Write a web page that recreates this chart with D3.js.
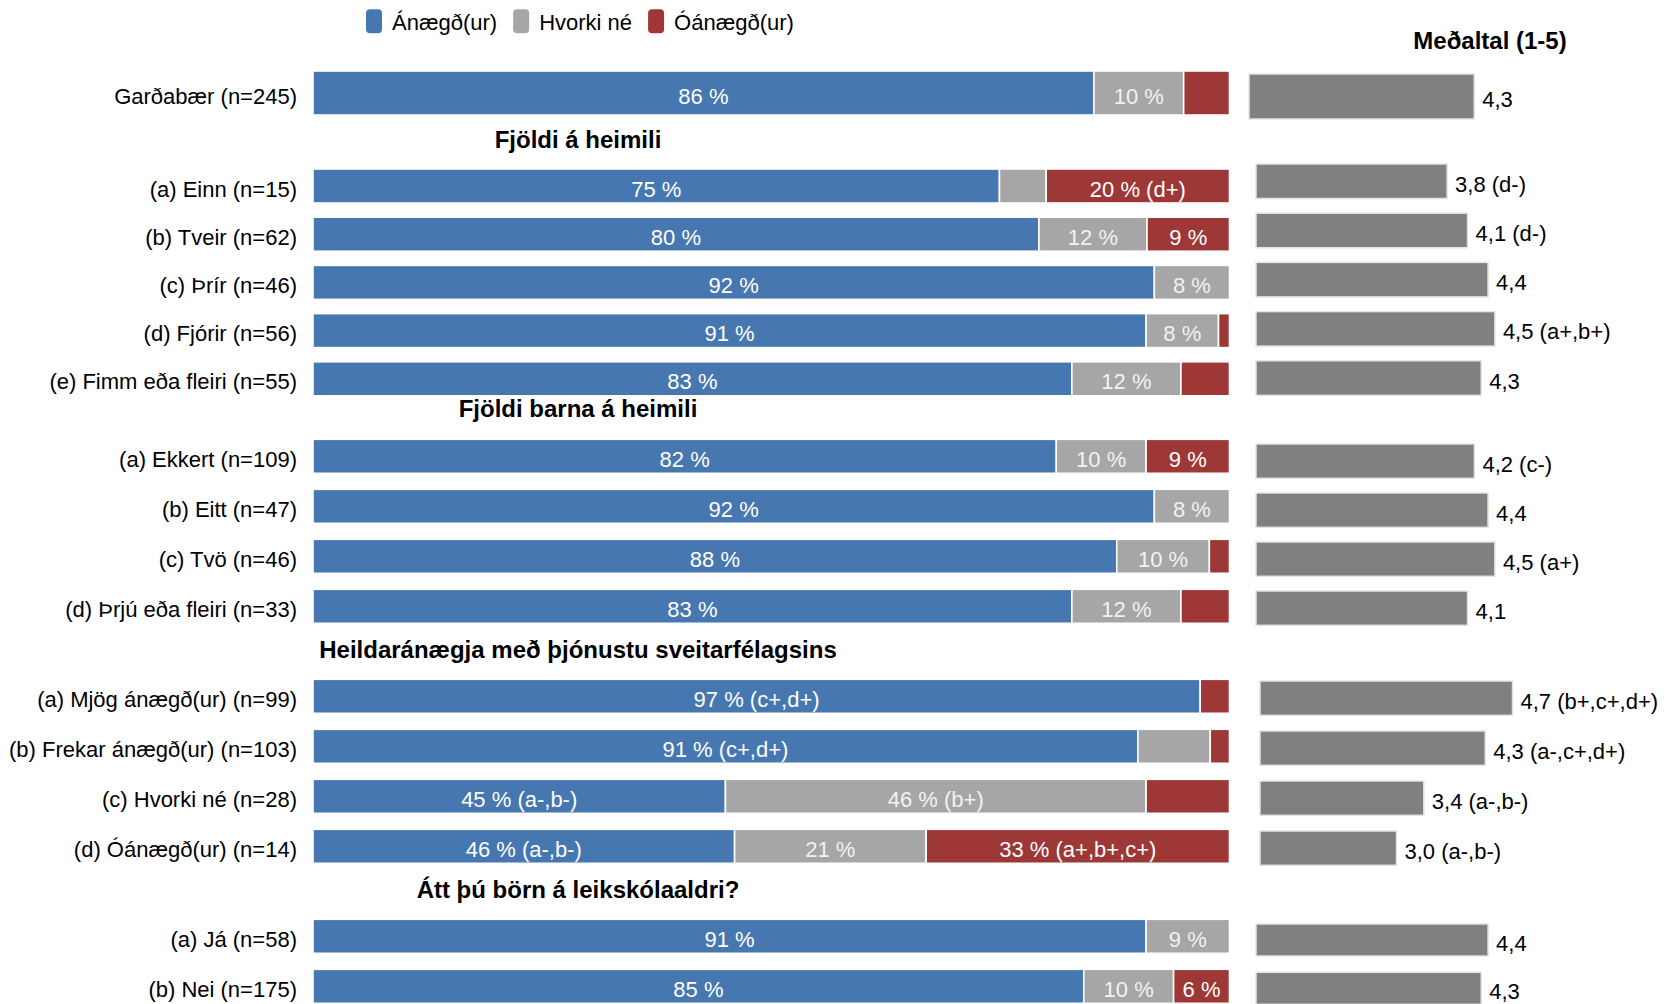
<!DOCTYPE html>
<html><head><meta charset="utf-8">
<script src="https://cdn.jsdelivr.net/npm/d3@7"></script>
<style>
body{margin:0;background:#fff}
svg{display:block}
text{font-family:"Liberation Sans",Arial,sans-serif}
</style>
</head><body>
<svg id="c" width="1671" height="1004"></svg>
<script>
// ---------- DATA ----------
const categories = [
  "Garðabær (n=245)",
  "(a) Einn (n=15)", "(b) Tveir (n=62)", "(c) Þrír (n=46)", "(d) Fjórir (n=56)", "(e) Fimm eða fleiri (n=55)",
  "(a) Ekkert (n=109)", "(b) Eitt (n=47)", "(c) Tvö (n=46)", "(d) Þrjú eða fleiri (n=33)",
  "(a) Mjög ánægð(ur) (n=99)", "(b) Frekar ánægð(ur) (n=103)", "(c) Hvorki né (n=28)", "(d) Óánægð(ur) (n=14)",
  "(a) Já (n=58)", "(b) Nei (n=175)"
];
const sectionOf = [0, 1,1,1,1,1, 2,2,2,2, 3,3,3,3, 4,4];
const sectionTitles = ["", "Fjöldi á heimili", "Fjöldi barna á heimili",
  "Heildaránægja með þjónustu sveitarfélagsins", "Átt þú börn á leikskólaaldri?"];
const seriesNames = ["Ánægð(ur)", "Hvorki né", "Óánægð(ur)"];

const satisfied    = [85.2, 74.9, 79.2, 91.8, 90.9, 82.8, 81.1, 91.8, 87.7, 82.8, 96.8, 90.0, 45.0, 46.0, 90.9, 84.1];
const neutral      = [ 9.8,  5.1, 11.8,  8.2,  7.9, 11.9,  9.8,  8.2, 10.1, 11.9,  0.0,  7.9, 45.9, 20.9,  9.1,  9.8];
const dissatisfied = [ 5.0, 20.0,  9.0,  0.0,  1.2,  5.3,  9.1,  0.0,  2.2,  5.3,  3.2,  2.1,  9.1, 33.1,  0.0,  6.1];

const satisfiedLabels = ["86 %","75 %","80 %","92 %","91 %","83 %","82 %","92 %","88 %","83 %",
  "97 % (c+,d+)","91 % (c+,d+)","45 % (a-,b-)","46 % (a-,b-)","91 %","85 %"];
const neutralLabels = ["10 %","","12 %","8 %","8 %","12 %","10 %","8 %","10 %","12 %",
  "","","46 % (b+)","21 %","9 %","10 %"];
const dissatisfiedLabels = ["","20 % (d+)","9 %","","","","9 %","","","",
  "","","","33 % (a+,b+,c+)","","6 %"];

const means = [4.3, 3.8, 4.1, 4.4, 4.5, 4.3, 4.2, 4.4, 4.5, 4.1, 4.7, 4.3, 3.4, 3.0, 4.4, 4.3];
const meanSuffix = ["","(d-)","(d-)","","(a+,b+)","","(c-)","","(a+)","",
  "(b+,c+,d+)","(a-,c+,d+)","(a-,b-)","(a-,b-)","",""];
const meanTitle = "Meðaltal (1-5)";

// ---------- STYLE / LAYOUT ----------
const colors = ["#4677B0", "#A6A6A6", "#9E3836"];
const labelColors = ["#FFFFFF", "#F2F2F2", "#FFFFFF"];
const meanColor = "#808080";
const FS = 22;
const TDY = 3;

const layout = [
  {top:71,    pitch:44,   h:44, mTop:74,  mPitch:45,   mH:45,   mLeft:1249, titleY:null},
  {top:169,   pitch:48.2, h:34, mTop:164, mPitch:49.2, mH:34.5, mLeft:1256, titleY:139.7},
  {top:439.3, pitch:50,   h:34, mTop:444, mPitch:49,   mH:34.3, mLeft:1256, titleY:408.5},
  {top:679.3, pitch:50,   h:34, mTop:681, mPitch:50,   mH:34.3, mLeft:1260, titleY:649},
  {top:919.3, pitch:50,   h:34, mTop:924, mPitch:48.3, mH:32,   mLeft:1256, titleY:889.7}
];

const svg = d3.select("#c");
svg.append("rect").attr("width",1671).attr("height",1004).attr("fill","#fff");

const x = d3.scaleLinear().domain([0,100]).range([313,1229.5]);

const rows = categories.map((c,i)=>({i, cat:c, sat:satisfied[i], neu:neutral[i], dis:dissatisfied[i], mean:means[i]}));
const keys = ["sat","neu","dis"];
const labelsByKey = {sat:satisfiedLabels, neu:neutralLabels, dis:dissatisfiedLabels};
const stacked = d3.stack().keys(keys)(rows);

// band scales per section
const yBand = {}, yMean = {}, xMean = {};
layout.forEach((L,s)=>{
  const idx = rows.filter(r=>sectionOf[r.i]===s).map(r=>r.i);
  const n = idx.length;
  const p = (L.pitch-L.h)/L.pitch;
  yBand[s] = d3.scaleBand().domain(idx).range([L.top, L.top + n*L.pitch - (L.pitch-L.h)]).paddingInner(p).paddingOuter(0);
  const mp = (L.mPitch-L.mH)/L.mPitch;
  yMean[s] = d3.scaleBand().domain(idx).range([L.mTop, L.mTop + n*L.mPitch - (L.mPitch-L.mH)]).paddingInner(mp).paddingOuter(0);
  xMean[s] = d3.scaleLinear().domain([1,5]).range([L.mLeft, L.mLeft + 273]);
});
const yb = i => yBand[sectionOf[i]];
const ym = i => yMean[sectionOf[i]];

// ---------- LEGEND ----------
const lg = svg.append("g");
let lx = 366;
seriesNames.forEach((name,k)=>{
  lg.append("rect").attr("x",lx).attr("y",9.3).attr("width",16).attr("height",24).attr("rx",4)
    .attr("fill",colors[k]);
  const t = lg.append("text").attr("x",lx+26).attr("y",22).attr("dominant-baseline","central")
    .attr("font-size",FS).attr("fill","#000").text(name);
  lx = lx + 26 + t.node().getComputedTextLength() + 16;
});

// ---------- SECTION TITLES ----------
svg.append("text").attr("x",1490).attr("y",40).attr("text-anchor","middle").attr("dominant-baseline","central")
  .attr("font-size",24).attr("font-weight","bold").text(meanTitle);
sectionTitles.forEach((t,s)=>{
  if(!t) return;
  svg.append("text").attr("x",578).attr("y",layout[s].titleY).attr("text-anchor","middle")
    .attr("dominant-baseline","central").attr("font-size",24).attr("font-weight","bold").text(t);
});

// ---------- CATEGORY LABELS ----------
svg.append("g").selectAll("text").data(rows).join("text")
  .attr("x",297).attr("y",d=>yb(d.i)(d.i)+yb(d.i).bandwidth()/2+TDY)
  .attr("text-anchor","end").attr("dominant-baseline","central")
  .attr("font-size",FS).attr("fill","#000").text(d=>d.cat);

// ---------- STACKED BARS ----------
stacked.forEach((ser,k)=>{
  const g = svg.append("g");
  g.selectAll("rect").data(ser.filter(d=>d[1]-d[0]>0)).join("rect")
    .attr("x",d=>x(d[0])).attr("width",d=>x(d[1])-x(d[0]))
    .attr("y",d=>yb(d.data.i)(d.data.i)).attr("height",d=>yb(d.data.i).bandwidth())
    .attr("fill",colors[k]).attr("stroke","#fff").attr("stroke-width",1.6);
  g.selectAll("text").data(ser.filter(d=>labelsByKey[ser.key][d.data.i])).join("text")
    .attr("x",d=>(x(d[0])+x(d[1]))/2)
    .attr("y",d=>yb(d.data.i)(d.data.i)+yb(d.data.i).bandwidth()/2+TDY)
    .attr("text-anchor","middle").attr("dominant-baseline","central")
    .attr("font-size",FS).attr("fill",labelColors[k])
    .text(d=>labelsByKey[ser.key][d.data.i]);
});

// ---------- MEAN BARS ----------
const fmt = v => d3.format(".1f")(v).replace(".",",");
const mg = svg.append("g");
mg.selectAll("rect").data(rows).join("rect")
  .attr("x",d=>xMean[sectionOf[d.i]](1))
  .attr("width",d=>xMean[sectionOf[d.i]](d.mean)-xMean[sectionOf[d.i]](1))
  .attr("y",d=>ym(d.i)(d.i)).attr("height",d=>ym(d.i).bandwidth())
  .attr("fill",meanColor).attr("stroke","#e3e3e3").attr("stroke-width",1.5);
mg.selectAll("text").data(rows).join("text")
  .attr("x",d=>xMean[sectionOf[d.i]](d.mean)+8)
  .attr("y",d=>ym(d.i)(d.i)+ym(d.i).bandwidth()/2+TDY)
  .attr("dominant-baseline","central").attr("font-size",FS).attr("fill","#000")
  .text(d=>fmt(d.mean)+(meanSuffix[d.i]?" "+meanSuffix[d.i]:""));
</script>
</body></html>
